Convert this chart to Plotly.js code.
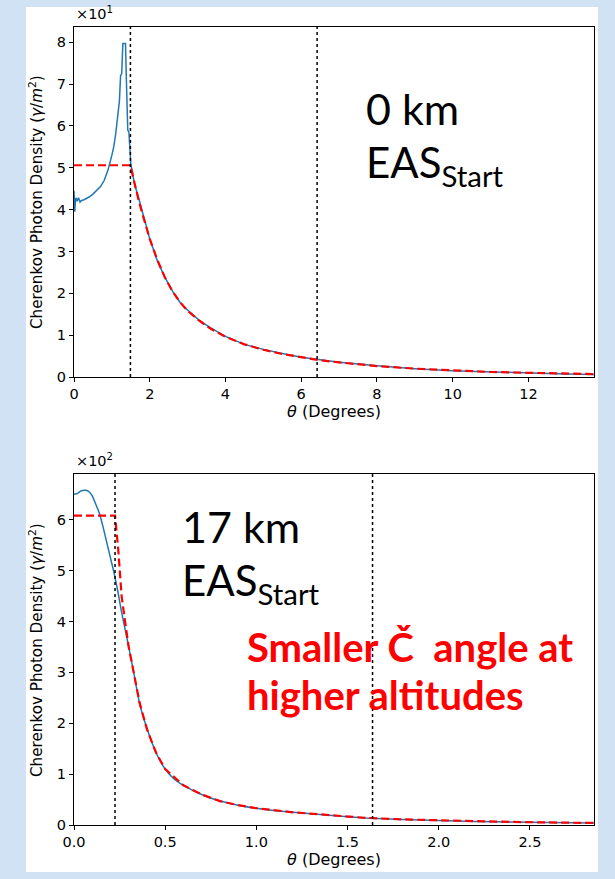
<!DOCTYPE html>
<html>
<head>
<meta charset="utf-8">
<script src="https://cdn.plot.ly/plotly-3.0.1.min.js"></script>
<style>html,body{margin:0;padding:0;background:#d0e2f4;}#chart{width:615px;height:879px;}</style>
</head>
<body>
<div id="chart"></div>
<script>
// ---- Top panel (EAS start at 0 km), density in units of 10^1 ----
const topTheta = [0, 0.02, 0.04, 0.06, 0.08, 0.12, 0.16, 0.2, 0.25, 0.3, 0.4, 0.5, 0.6, 0.7, 0.8, 0.9, 1.0, 1.05, 1.1, 1.15, 1.2, 1.23, 1.26, 1.29, 1.33, 1.36, 1.38, 1.4, 1.42, 1.45, 1.48, 1.5, 1.55, 1.6, 1.7, 1.8, 1.9, 2.0, 2.2, 2.4, 2.6, 2.8, 3.0, 3.3, 3.6, 4.0, 4.5, 5.0, 5.5, 6.0, 6.5, 7.0, 8.0, 9.0, 10.0, 11.0, 12.0, 13.0, 13.74];
const topDensity = [4.45, 3.95, 4.25, 4.28, 4.2, 4.28, 4.18, 4.22, 4.23, 4.25, 4.3, 4.37, 4.45, 4.55, 4.7, 4.95, 5.3, 5.5, 5.8, 6.2, 6.6, 7.2, 7.25, 7.97, 7.97, 7.97, 7.2, 6.5, 5.9, 5.85, 5.4, 5.1, 4.85, 4.6, 4.3, 3.95, 3.62, 3.3, 2.78, 2.38, 2.05, 1.78, 1.6, 1.36, 1.18, 0.97, 0.78, 0.66, 0.56, 0.47, 0.41, 0.35, 0.27, 0.2, 0.15, 0.12, 0.09, 0.07, 0.06];
const topFitTheta = [0, 1.49, 1.55, 1.6, 1.7, 1.8, 1.9, 2.0, 2.2, 2.4, 2.6, 2.8, 3.0, 3.3, 3.6, 4.0, 4.5, 5.0, 5.5, 6.0, 6.5, 7.0, 8.0, 9.0, 10.0, 11.0, 12.0, 13.0, 13.74];
const topFit = [5.06, 5.06, 4.82, 4.6, 4.25, 3.92, 3.6, 3.3, 2.8, 2.38, 2.05, 1.79, 1.58, 1.35, 1.16, 0.96, 0.78, 0.65, 0.55, 0.47, 0.4, 0.35, 0.26, 0.2, 0.16, 0.12, 0.1, 0.08, 0.07];
const topMarkers = [1.49, 6.42];
const topXTicks = [0, 2, 4, 6, 8, 10, 12];
const topYTicks = [0, 1, 2, 3, 4, 5, 6, 7, 8];
const topRange = {x: [0, 13.74], y: [0, 8.37]};

// ---- Bottom panel (EAS start at 17 km), density in units of 10^2 ----
const botTheta = [0, 0.02, 0.04, 0.06, 0.08, 0.1, 0.12, 0.14, 0.16, 0.18, 0.2, 0.22, 0.24, 0.26, 0.28, 0.3, 0.33, 0.36, 0.4, 0.45, 0.5, 0.55, 0.6, 0.7, 0.8, 0.9, 1.0, 1.2, 1.4, 1.6, 1.8, 2.0, 2.2, 2.4, 2.6, 2.853];
const botDensity = [6.5, 6.52, 6.57, 6.58, 6.56, 6.47, 6.3, 6.12, 5.85, 5.55, 5.25, 4.95, 4.6, 4.2, 3.85, 3.5, 2.95, 2.38, 1.9, 1.42, 1.1, 0.9, 0.78, 0.6, 0.47, 0.39, 0.33, 0.25, 0.19, 0.14, 0.11, 0.09, 0.07, 0.06, 0.05, 0.04];
const botFitTheta = [0, 0.225, 0.243, 0.261, 0.28, 0.3, 0.33, 0.36, 0.4, 0.45, 0.5, 0.6, 0.7, 0.8, 0.9, 1.0, 1.2, 1.4, 1.6, 1.8, 2.0, 2.2, 2.4, 2.6, 2.853];
const botFit = [6.08, 6.08, 5.4, 4.5, 4.0, 3.5, 2.95, 2.4, 1.88, 1.42, 1.1, 0.78, 0.6, 0.47, 0.39, 0.33, 0.25, 0.19, 0.14, 0.11, 0.09, 0.07, 0.06, 0.05, 0.04];
const botMarkers = [0.225, 1.637];
const botXTicks = [0, 0.5, 1.0, 1.5, 2.0, 2.5];
const botYTicks = [0, 1, 2, 3, 4, 5, 6];
const botRange = {x: [0, 2.853], y: [0, 6.9]};

const axisTitleY = 'Cherenkov Photon Density (<i>γ</i>/<i>m</i><sup>2</sup>)';
const axisTitleX = '<i>θ</i> (Degrees)';

const W = 615, H = 879;
const px = v => v / W;
const py = v => 1 - v / H;
const tickFont = {family: 'DejaVu Sans', size: 14.5, color: '#000'};
const yTitleFont = {family: 'DejaVu Sans', size: 15.2, color: '#000'};
const xTitleFont = {family: 'DejaVu Sans', size: 16, color: '#000'};
const blue = '#1f77b4', red = '#ff0000';

const traces = [
  {x: topTheta, y: topDensity, xaxis: 'x', yaxis: 'y', mode: 'lines', line: {color: blue, width: 1.5}, hoverinfo: 'skip'},
  {x: topFitTheta, y: topFit, xaxis: 'x', yaxis: 'y', mode: 'lines', line: {color: red, width: 2.2, dash: '8px,4px'}, hoverinfo: 'skip'},
  {x: botTheta, y: botDensity, xaxis: 'x2', yaxis: 'y2', mode: 'lines', line: {color: blue, width: 1.5, shape: 'spline', smoothing: 0.5}, hoverinfo: 'skip'},
  {x: botFitTheta, y: botFit, xaxis: 'x2', yaxis: 'y2', mode: 'lines', line: {color: red, width: 2.2, dash: '8px,4px'}, hoverinfo: 'skip'}
];

function axisCommon(range, ticks, domain, anchor) {
  return {
    range: range, domain: domain, anchor: anchor, tickmode: 'array', tickvals: ticks,
    ticks: 'outside', ticklen: 4, tickwidth: 1, tickcolor: '#000',
    showline: true, mirror: true, linecolor: '#000', linewidth: 1,
    showgrid: false, zeroline: false, tickfont: tickFont, fixedrange: true
  };
}

const xDom = [px(74), px(594.3)];
const topYDom = [py(377), py(26.7)];
const botYDom = [py(825), py(474)];

const layout = {
  width: W, height: H, autosize: false,
  margin: {l: 0, r: 0, t: 0, b: 0},
  paper_bgcolor: '#d0e2f4', plot_bgcolor: '#ffffff',
  showlegend: false,
  xaxis: axisCommon(topRange.x, topXTicks, xDom, 'y'),
  yaxis: axisCommon(topRange.y, topYTicks, topYDom, 'x'),
  xaxis2: Object.assign(axisCommon(botRange.x, botXTicks, xDom, 'y2'), {tickformat: '.1f'}),
  yaxis2: axisCommon(botRange.y, botYTicks, botYDom, 'x2'),
  shapes: [
    {type: 'rect', xref: 'paper', yref: 'paper', x0: px(26), x1: px(598), y0: py(872), y1: py(7), fillcolor: '#ffffff', line: {width: 0}, layer: 'below'}
  ].concat(
    topMarkers.map(v => ({type: 'line', xref: 'x', yref: 'y domain', x0: v, x1: v, y0: 0, y1: 1, line: {color: '#000', width: 1.5, dash: 'dot'}})),
    botMarkers.map(v => ({type: 'line', xref: 'x2', yref: 'y2 domain', x0: v, x1: v, y0: 0, y1: 1, line: {color: '#000', width: 1.5, dash: 'dot'}}))
  ),
  annotations: [
    {text: '×10<sup>1</sup>', xref: 'paper', yref: 'paper', x: px(74), y: py(24), xanchor: 'left', yanchor: 'bottom', showarrow: false, font: tickFont},
    {text: '×10<sup>2</sup>', xref: 'paper', yref: 'paper', x: px(74), y: py(471), xanchor: 'left', yanchor: 'bottom', showarrow: false, font: tickFont},
    {text: axisTitleY, xref: 'paper', yref: 'paper', x: px(36), y: py(202), xanchor: 'center', yanchor: 'middle', textangle: -90, showarrow: false, font: yTitleFont},
    {text: axisTitleY, xref: 'paper', yref: 'paper', x: px(36), y: py(650), xanchor: 'center', yanchor: 'middle', textangle: -90, showarrow: false, font: yTitleFont},
    {text: axisTitleX, xref: 'paper', yref: 'paper', x: px(334), y: py(411), xanchor: 'center', yanchor: 'middle', showarrow: false, font: xTitleFont},
    {text: axisTitleX, xref: 'paper', yref: 'paper', x: px(334), y: py(859), xanchor: 'center', yanchor: 'middle', showarrow: false, font: xTitleFont},
    {text: '0 km', xref: 'paper', yref: 'paper', x: px(364), y: py(108), xanchor: 'left', yanchor: 'middle', showarrow: false, font: {family: 'Lato', size: 43, color: '#000'}},
    {text: 'EAS<sub>Start</sub>', xref: 'paper', yref: 'paper', x: px(364), y: py(165), xanchor: 'left', yanchor: 'middle', showarrow: false, font: {family: 'Lato', size: 42, color: '#000'}},
    {text: '17 km', xref: 'paper', yref: 'paper', x: px(180), y: py(526), xanchor: 'left', yanchor: 'middle', showarrow: false, font: {family: 'Lato', size: 43, color: '#000'}},
    {text: 'EAS<sub>Start</sub>', xref: 'paper', yref: 'paper', x: px(180), y: py(583), xanchor: 'left', yanchor: 'middle', showarrow: false, font: {family: 'Lato', size: 42, color: '#000'}},
    {text: 'Smaller Č&nbsp; angle at', xref: 'paper', yref: 'paper', x: px(245), y: py(647), xanchor: 'left', yanchor: 'middle', showarrow: false, font: {family: 'Lato', size: 40, color: red, weight: 'bold'}},
    {text: 'higher altitudes', xref: 'paper', yref: 'paper', x: px(245), y: py(695), xanchor: 'left', yanchor: 'middle', showarrow: false, font: {family: 'Lato', size: 40, color: red, weight: 'bold'}}
  ]
};

Plotly.newPlot('chart', traces, layout, {displayModeBar: false});
</script>
</body>
</html>
